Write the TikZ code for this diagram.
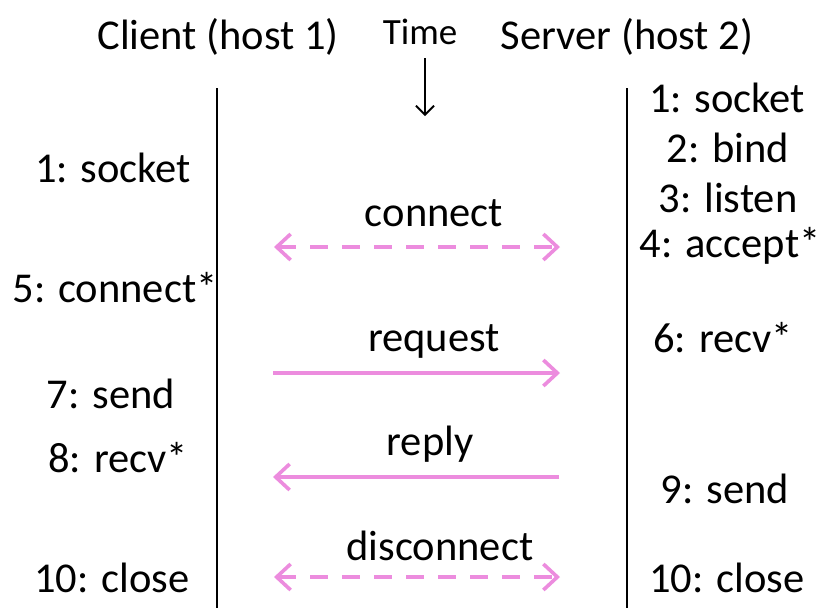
\documentclass[tikz,border=0pt]{standalone}
\usepackage{fontspec}
\setmainfont{Carlito}
\usetikzlibrary{arrows.meta}
\definecolor{msgpink}{RGB}{236,140,222}
\begin{document}
\begin{tikzpicture}[x=1pt,y=-1pt,
  lbl/.style={font=\fontsize{42.5}{50}\selectfont, inner sep=0pt, anchor=center},
  tlbl/.style={font=\fontsize{37}{44}\selectfont, inner sep=0pt, anchor=center},
  lifeline/.style={line width=2.4pt, black},
  msg/.style={line width=3.6pt, msgpink, -{Straight Barb[length=14pt,width=26pt,line width=3.6pt]}},
  msgboth/.style={msg, dash pattern=on 18pt off 14pt, {Straight Barb[length=14pt,width=26pt,line width=3.6pt]}-{Straight Barb[length=14pt,width=26pt,line width=3.6pt]}}
]
\useasboundingbox (0,0) rectangle (838,614);
\fill[white] (0,0) rectangle (838,614);
% headers
\node[lbl] (client) at (218,37) {Client (host 1)};
\node[tlbl] (time) at (420,32) {Time};
\node[lbl] (server) at (627,37) {Server (host 2)};
\coordinate (ta) at (425,58);
\coordinate (tb) at (425,116);
\draw[line width=1.8pt, -{Straight Barb[length=9pt,width=18pt,line width=1.8pt]}] (ta) -- (tb);
% lifelines
\coordinate (lt) at (217,88); \coordinate (lb) at (217,608);
\coordinate (rt) at (627,88); \coordinate (rb) at (627,608);
\draw[lifeline] (lt) -- (lb);
\draw[lifeline] (rt) -- (rb);
% client steps
\node[lbl] (c1) at (113,168) {1: socket};
\node[lbl] (c5) at (115,288) {5: connect*};
\node[lbl] (c7) at (111,394) {7: send};
\node[lbl] (c8) at (118,458) {8: recv*};
\node[lbl] (c10) at (112,578) {10: close};
% server steps
\node[lbl] (s1) at (727,98) {1: socket};
\node[lbl] (s2) at (728,148) {2: bind};
\node[lbl] (s3) at (728,198) {3: listen};
\node[lbl] (s4) at (730,246) {4: accept*};
\node[lbl] (s6) at (723,338) {6: recv*};
\node[lbl] (s9) at (725,489) {9: send};
\node[lbl] (s10) at (727,578) {10: close};
% messages
\coordinate (m1a) at (274,247); \coordinate (m1b) at (560,247);
\draw[msgboth] (m1a) -- (m1b);
\node[lbl] (m1) at (434,213) {connect};
\coordinate (m2a) at (273,373); \coordinate (m2b) at (560,373);
\draw[msg] (m2a) -- (m2b);
\node[lbl] (m2) at (434,341) {request};
\coordinate (m3a) at (559,477); \coordinate (m3b) at (273,477);
\draw[msg] (m3a) -- (m3b);
\node[lbl] (m3) at (430,444) {reply};
\coordinate (m4a) at (274,577); \coordinate (m4b) at (560,577);
\draw[msgboth] (m4a) -- (m4b);
\node[lbl] (m4) at (440,546) {disconnect};
\end{tikzpicture}
\end{document}
